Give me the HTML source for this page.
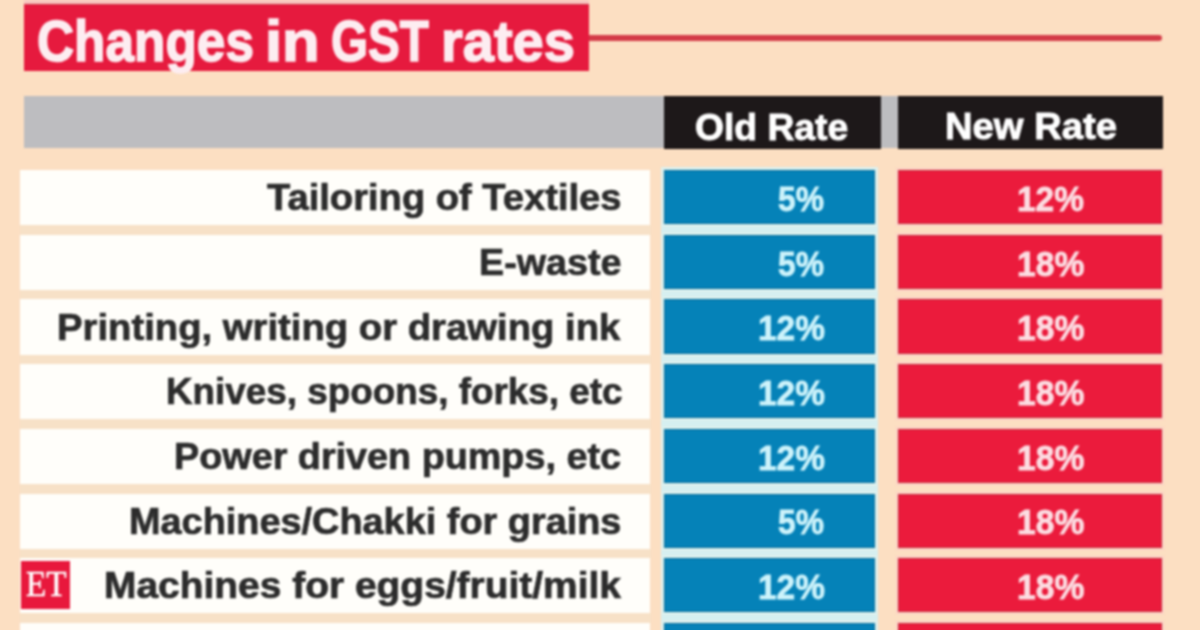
<!DOCTYPE html>
<html><head><meta charset="utf-8"><style>
html,body{margin:0;padding:0;}
body{width:1200px;height:630px;overflow:hidden;position:relative;background:#fcdfc2;}
#w{position:absolute;left:0;top:0;width:1200px;height:630px;filter:blur(0.9px);}
.b{position:absolute;}
.t{position:absolute;white-space:nowrap;line-height:1;transform-origin:0 0;}
</style></head><body><div id="w">
<div class="b" style="left:24px;top:0px;width:565px;height:4px;background:#f7c6c0;"></div>
<div class="b" style="left:24px;top:4px;width:565px;height:67px;background:#e61a3e;border-top:1px solid #cc2a3e;box-sizing:border-box"></div>
<div class="b" style="left:589px;top:35px;width:573px;height:6px;background:#d43a47;border-radius:0 3px 3px 0"></div>
<div class="b" style="left:24px;top:96px;width:857px;height:52px;background:#bdbdc0;"></div>
<div class="b" style="left:881px;top:96px;width:17px;height:52px;background:#bdbdc0;"></div>
<div class="b" style="left:664px;top:96px;width:217px;height:53px;background:#1d1819;"></div>
<div class="b" style="left:898px;top:96px;width:265px;height:53px;background:#1d1819;"></div>
<div class="b" style="left:20px;top:170px;width:630px;height:55px;background:#fffefa;"></div>
<div class="b" style="left:20px;top:225px;width:631px;height:10px;background:#f7e1c7;"></div>
<div class="b" style="left:661px;top:224px;width:217px;height:11px;background:#d5eff0;"></div>
<div class="b" style="left:664px;top:170px;width:211px;height:54px;background:#0582b8;box-shadow:inset 0 0 0 1px #0b6f9a,0 0 0 3px #dcf0ee"></div>
<div class="b" style="left:898px;top:170px;width:264px;height:54px;background:#eb1b3c;box-shadow:inset 0 0 0 1px #c52b3d,0 0 0 2px #fbd3c6"></div>
<div class="b" style="left:20px;top:235px;width:630px;height:55px;background:#fffefa;"></div>
<div class="b" style="left:20px;top:290px;width:631px;height:9px;background:#f7e1c7;"></div>
<div class="b" style="left:661px;top:289px;width:217px;height:10px;background:#d5eff0;"></div>
<div class="b" style="left:664px;top:235px;width:211px;height:54px;background:#0582b8;box-shadow:inset 0 0 0 1px #0b6f9a,0 0 0 3px #dcf0ee"></div>
<div class="b" style="left:898px;top:235px;width:264px;height:54px;background:#eb1b3c;box-shadow:inset 0 0 0 1px #c52b3d,0 0 0 2px #fbd3c6"></div>
<div class="b" style="left:20px;top:299px;width:630px;height:56px;background:#fffefa;"></div>
<div class="b" style="left:20px;top:355px;width:631px;height:9px;background:#f7e1c7;"></div>
<div class="b" style="left:661px;top:354px;width:217px;height:10px;background:#d5eff0;"></div>
<div class="b" style="left:664px;top:299px;width:211px;height:55px;background:#0582b8;box-shadow:inset 0 0 0 1px #0b6f9a,0 0 0 3px #dcf0ee"></div>
<div class="b" style="left:898px;top:299px;width:264px;height:55px;background:#eb1b3c;box-shadow:inset 0 0 0 1px #c52b3d,0 0 0 2px #fbd3c6"></div>
<div class="b" style="left:20px;top:364px;width:630px;height:55px;background:#fffefa;"></div>
<div class="b" style="left:20px;top:419px;width:631px;height:10px;background:#f7e1c7;"></div>
<div class="b" style="left:661px;top:418px;width:217px;height:11px;background:#d5eff0;"></div>
<div class="b" style="left:664px;top:364px;width:211px;height:54px;background:#0582b8;box-shadow:inset 0 0 0 1px #0b6f9a,0 0 0 3px #dcf0ee"></div>
<div class="b" style="left:898px;top:364px;width:264px;height:54px;background:#eb1b3c;box-shadow:inset 0 0 0 1px #c52b3d,0 0 0 2px #fbd3c6"></div>
<div class="b" style="left:20px;top:429px;width:630px;height:55px;background:#fffefa;"></div>
<div class="b" style="left:20px;top:484px;width:631px;height:10px;background:#f7e1c7;"></div>
<div class="b" style="left:661px;top:483px;width:217px;height:11px;background:#d5eff0;"></div>
<div class="b" style="left:664px;top:429px;width:211px;height:54px;background:#0582b8;box-shadow:inset 0 0 0 1px #0b6f9a,0 0 0 3px #dcf0ee"></div>
<div class="b" style="left:898px;top:429px;width:264px;height:54px;background:#eb1b3c;box-shadow:inset 0 0 0 1px #c52b3d,0 0 0 2px #fbd3c6"></div>
<div class="b" style="left:20px;top:494px;width:630px;height:55px;background:#fffefa;"></div>
<div class="b" style="left:20px;top:549px;width:631px;height:9px;background:#f7e1c7;"></div>
<div class="b" style="left:661px;top:548px;width:217px;height:10px;background:#d5eff0;"></div>
<div class="b" style="left:664px;top:494px;width:211px;height:54px;background:#0582b8;box-shadow:inset 0 0 0 1px #0b6f9a,0 0 0 3px #dcf0ee"></div>
<div class="b" style="left:898px;top:494px;width:264px;height:54px;background:#eb1b3c;box-shadow:inset 0 0 0 1px #c52b3d,0 0 0 2px #fbd3c6"></div>
<div class="b" style="left:20px;top:558px;width:630px;height:55px;background:#fffefa;"></div>
<div class="b" style="left:20px;top:613px;width:631px;height:10px;background:#f7e1c7;"></div>
<div class="b" style="left:661px;top:612px;width:217px;height:11px;background:#d5eff0;"></div>
<div class="b" style="left:664px;top:558px;width:211px;height:54px;background:#0582b8;box-shadow:inset 0 0 0 1px #0b6f9a,0 0 0 3px #dcf0ee"></div>
<div class="b" style="left:898px;top:558px;width:264px;height:54px;background:#eb1b3c;box-shadow:inset 0 0 0 1px #c52b3d,0 0 0 2px #fbd3c6"></div>
<div class="b" style="left:20px;top:623px;width:630px;height:55px;background:#fffefa;"></div>
<div class="b" style="left:664px;top:623px;width:211px;height:54px;background:#0582b8;box-shadow:inset 0 0 0 1px #0b6f9a,0 0 0 3px #dcf0ee"></div>
<div class="b" style="left:898px;top:623px;width:264px;height:54px;background:#eb1b3c;box-shadow:inset 0 0 0 1px #c52b3d,0 0 0 2px #fbd3c6"></div>
<div class="b" style="left:21px;top:561px;width:49px;height:48px;background:#e8183c;"></div>
<div class="t" style="left:36.73px;top:12.10px;font-family:'Liberation Sans',sans-serif;font-weight:bold;font-size:58px;color:#fdedf1;-webkit-text-stroke:1.6px #fdedf1;transform:scaleX(0.8859)">Changes</div>
<div class="t" style="left:265.05px;top:12.10px;font-family:'Liberation Sans',sans-serif;font-weight:bold;font-size:58px;color:#fdedf1;-webkit-text-stroke:1.6px #fdedf1;transform:scaleX(1.0614)">in</div>
<div class="t" style="left:330.86px;top:12.10px;font-family:'Liberation Sans',sans-serif;font-weight:bold;font-size:58px;color:#fdedf1;-webkit-text-stroke:1.6px #fdedf1;transform:scaleX(0.8214)">GST</div>
<div class="t" style="left:441.14px;top:12.10px;font-family:'Liberation Sans',sans-serif;font-weight:bold;font-size:58px;color:#fdedf1;-webkit-text-stroke:1.6px #fdedf1;transform:scaleX(0.9659)">rates</div>
<div class="t" style="left:694.69px;top:108.68px;font-family:'Liberation Sans',sans-serif;font-weight:bold;font-size:37px;color:#ffffff;-webkit-text-stroke:0.9px #ffffff;transform:scaleX(1.0067)">Old Rate</div>
<div class="t" style="left:944.63px;top:108.18px;font-family:'Liberation Sans',sans-serif;font-weight:bold;font-size:37px;color:#ffffff;-webkit-text-stroke:0.9px #ffffff;transform:scaleX(1.0325)">New Rate</div>
<div class="t" style="left:267.00px;top:179.18px;font-family:'Liberation Sans',sans-serif;font-weight:bold;font-size:37px;color:#2c2c2c;-webkit-text-stroke:0.7px #2c2c2c;transform:scaleX(1.0306)">Tailoring of Textiles</div>
<div class="t" style="left:778.09px;top:180.87px;font-family:'Liberation Sans',sans-serif;font-weight:bold;font-size:35px;color:#cdf3fb;-webkit-text-stroke:0.8px #cdf3fb;transform:scaleX(0.9082)">5%</div>
<div class="t" style="left:1017.09px;top:180.87px;font-family:'Liberation Sans',sans-serif;font-weight:bold;font-size:35px;color:#fcdde2;-webkit-text-stroke:0.8px #fcdde2;transform:scaleX(0.9552)">12%</div>
<div class="t" style="left:478.96px;top:243.88px;font-family:'Liberation Sans',sans-serif;font-weight:bold;font-size:37px;color:#2c2c2c;-webkit-text-stroke:0.7px #2c2c2c;transform:scaleX(1.0182)">E-waste</div>
<div class="t" style="left:778.09px;top:245.57px;font-family:'Liberation Sans',sans-serif;font-weight:bold;font-size:35px;color:#cdf3fb;-webkit-text-stroke:0.8px #cdf3fb;transform:scaleX(0.9082)">5%</div>
<div class="t" style="left:1016.68px;top:245.57px;font-family:'Liberation Sans',sans-serif;font-weight:bold;font-size:35px;color:#fcdde2;-webkit-text-stroke:0.8px #fcdde2;transform:scaleX(0.9612)">18%</div>
<div class="t" style="left:56.93px;top:308.58px;font-family:'Liberation Sans',sans-serif;font-weight:bold;font-size:37px;color:#2c2c2c;-webkit-text-stroke:0.7px #2c2c2c;transform:scaleX(1.0341)">Printing, writing or drawing ink</div>
<div class="t" style="left:757.59px;top:310.27px;font-family:'Liberation Sans',sans-serif;font-weight:bold;font-size:35px;color:#cdf3fb;-webkit-text-stroke:0.8px #cdf3fb;transform:scaleX(0.9552)">12%</div>
<div class="t" style="left:1016.68px;top:310.27px;font-family:'Liberation Sans',sans-serif;font-weight:bold;font-size:35px;color:#fcdde2;-webkit-text-stroke:0.8px #fcdde2;transform:scaleX(0.9612)">18%</div>
<div class="t" style="left:165.51px;top:373.28px;font-family:'Liberation Sans',sans-serif;font-weight:bold;font-size:37px;color:#2c2c2c;-webkit-text-stroke:0.7px #2c2c2c;transform:scaleX(0.9956)">Knives, spoons, forks, etc</div>
<div class="t" style="left:757.59px;top:374.97px;font-family:'Liberation Sans',sans-serif;font-weight:bold;font-size:35px;color:#cdf3fb;-webkit-text-stroke:0.8px #cdf3fb;transform:scaleX(0.9552)">12%</div>
<div class="t" style="left:1016.68px;top:374.97px;font-family:'Liberation Sans',sans-serif;font-weight:bold;font-size:35px;color:#fcdde2;-webkit-text-stroke:0.8px #fcdde2;transform:scaleX(0.9612)">18%</div>
<div class="t" style="left:174.46px;top:437.98px;font-family:'Liberation Sans',sans-serif;font-weight:bold;font-size:37px;color:#2c2c2c;-webkit-text-stroke:0.7px #2c2c2c;transform:scaleX(1.0207)">Power driven pumps, etc</div>
<div class="t" style="left:757.59px;top:439.67px;font-family:'Liberation Sans',sans-serif;font-weight:bold;font-size:35px;color:#cdf3fb;-webkit-text-stroke:0.8px #cdf3fb;transform:scaleX(0.9552)">12%</div>
<div class="t" style="left:1016.68px;top:439.67px;font-family:'Liberation Sans',sans-serif;font-weight:bold;font-size:35px;color:#fcdde2;-webkit-text-stroke:0.8px #fcdde2;transform:scaleX(0.9612)">18%</div>
<div class="t" style="left:129.25px;top:502.68px;font-family:'Liberation Sans',sans-serif;font-weight:bold;font-size:37px;color:#2c2c2c;-webkit-text-stroke:0.7px #2c2c2c;transform:scaleX(1.0234)">Machines/Chakki for grains</div>
<div class="t" style="left:778.09px;top:504.37px;font-family:'Liberation Sans',sans-serif;font-weight:bold;font-size:35px;color:#cdf3fb;-webkit-text-stroke:0.8px #cdf3fb;transform:scaleX(0.9082)">5%</div>
<div class="t" style="left:1016.68px;top:504.37px;font-family:'Liberation Sans',sans-serif;font-weight:bold;font-size:35px;color:#fcdde2;-webkit-text-stroke:0.8px #fcdde2;transform:scaleX(0.9612)">18%</div>
<div class="t" style="left:103.90px;top:567.38px;font-family:'Liberation Sans',sans-serif;font-weight:bold;font-size:37px;color:#2c2c2c;-webkit-text-stroke:0.7px #2c2c2c;transform:scaleX(1.0521)">Machines for eggs/fruit/milk</div>
<div class="t" style="left:757.59px;top:569.07px;font-family:'Liberation Sans',sans-serif;font-weight:bold;font-size:35px;color:#cdf3fb;-webkit-text-stroke:0.8px #cdf3fb;transform:scaleX(0.9552)">12%</div>
<div class="t" style="left:1016.68px;top:569.07px;font-family:'Liberation Sans',sans-serif;font-weight:bold;font-size:35px;color:#fcdde2;-webkit-text-stroke:0.8px #fcdde2;transform:scaleX(0.9612)">18%</div>
<div class="t" style="left:25.78px;top:566.32px;font-family:'Liberation Serif',serif;font-weight:normal;font-size:36px;color:#ffffff;-webkit-text-stroke:0.5px #ffffff;transform:scaleX(0.9238)">ET</div>
</div></body></html>
